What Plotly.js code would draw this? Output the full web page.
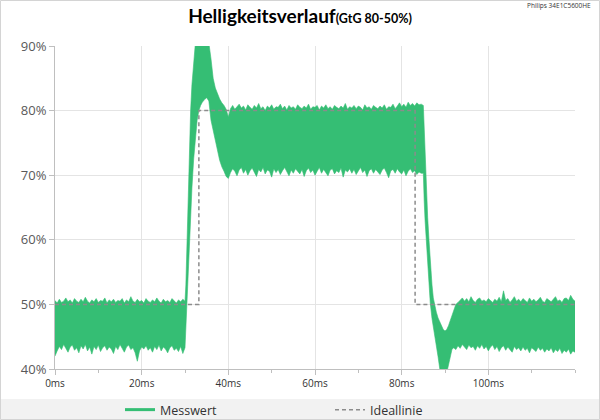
<!DOCTYPE html>
<html>
<head>
<meta charset="utf-8">
<script src="https://cdn.plot.ly/plotly-3.0.1.min.js"></script>
<style>html,body{margin:0;padding:0;background:#fff;}#chart{width:600px;height:420px;}</style>
</head>
<body>
<div id="chart"></div>
<script>
// ---- Data ----
// Segment A: steady 50% level, sampled every 0.5 ms from 0 ms
const segA_t0 = 0, segA_dt = 0.5;
const segA_upper = [50.6,50.2,50.8,50.3,50.5,51.0,50.4,50.7,50.2,50.9,50.5,50.3,50.8,50.4,51.1,50.5,50.2,50.7,50.4,50.9,50.3,50.6,50.5,51.0,50.2,50.7,50.4,50.8,50.3,50.6,50.5,50.9,50.2,50.7,50.4,51.2,50.5,50.3,50.8,50.4,50.6,50.2,50.9,50.5,50.3,50.7,50.4,51.0,50.5,50.2,50.8,50.4,50.6,50.3,50.9,50.5,50.2,50.7,50.4,50.8,50.5];
const segA_lower = [42.0,42.8,43.5,43.0,43.8,43.2,42.6,43.4,43.7,42.9,43.3,42.5,43.6,43.1,43.8,42.8,43.4,42.3,43.5,43.0,43.7,42.7,43.3,43.6,42.9,43.4,43.1,42.4,43.5,43.0,43.8,43.2,42.6,43.4,43.7,43.0,43.3,42.5,41.2,42.8,43.4,43.1,43.6,42.9,43.3,42.6,43.5,43.0,43.7,42.8,43.4,43.1,42.5,43.3,43.6,42.9,43.2,42.7,43.5,42.4,43.3];

// Rising transition with overshoot
const rise_t = [30.2,30.4,30.6,30.8,31.0,31.3,31.6,32.0,32.4,32.8,33.2,33.6,34.0,34.5,35.0,35.5,36.0,36.5,37.0,37.5,38.0,38.5,39.0,39.5];
const rise_upper = [53,58,64,70,75,80,84,87.5,90.5,92,93,93.5,93.5,93,92,90.5,88,85,83.5,82.5,81.8,81.2,80.8,80.2];
const rise_lower = [45,48,51,54,58,63,68,72.5,76,78.5,80,80.8,81.3,81.7,82,81.5,78.5,76.5,75,73.8,72.3,71.3,70.6,69.8];

// Segment B: steady 80% level, every 0.5 ms from 40 ms
const segB_t0 = 40, segB_dt = 0.5;
const segB_upper = [79.0,80.3,80.8,80.2,80.6,81.0,80.4,80.7,80.1,80.9,80.5,80.2,80.8,80.4,81.1,80.3,80.6,80.0,80.7,80.4,80.9,80.2,80.6,80.5,81.0,80.3,80.7,80.1,80.8,80.4,80.6,80.2,80.9,80.5,80.3,80.7,80.4,81.0,80.2,80.6,80.5,80.8,80.1,80.7,80.4,80.9,80.3,80.6,80.2,80.8,80.5,80.3,80.7,80.4,81.1,80.2,80.6,80.4,80.8,80.3,80.7,80.5,80.1,80.9,80.4,80.6,80.2,80.8,80.5,80.3,80.7,80.4,80.9,80.2,80.6,80.5,81.0,80.3,80.7,81.2,80.6,81.0,80.5,81.3,80.8,81.1,80.7,81.2,80.9,81.0];
const segB_lower = [69.5,70.4,71.0,70.6,69.9,70.8,71.2,70.3,70.9,70.0,70.7,71.1,70.4,69.8,70.9,70.5,71.2,70.2,70.8,70.6,69.7,71.0,70.4,70.9,70.1,70.7,71.2,70.5,69.9,70.8,70.3,71.0,70.6,70.2,70.9,69.8,70.7,71.1,70.4,70.8,70.0,70.6,71.2,70.3,70.9,70.5,69.9,70.8,71.0,70.2,70.7,70.4,71.1,69.7,70.8,70.5,71.0,70.3,70.9,70.1,70.6,71.2,70.4,70.8,69.8,70.7,71.0,70.3,70.9,70.5,70.1,70.8,71.1,70.4,69.6,70.7,70.9,70.3,71.0,70.5,70.2,70.8,69.9,70.6,71.0,70.4,70.7,70.1,70.5,70.3];

// Falling transition with undershoot
const fall_t = [85.0,85.2,85.4,85.6,85.8,86.0,86.3,86.6,87.0,87.3,87.6,88.0,88.4,88.8,89.2,89.6,90.0,90.4,90.8,91.2,91.6,92.0,92.5];
const fall_upper = [80.8,77,73,69.5,66,63.5,60,56.5,53,51,49.8,48.8,47.9,47.2,46.6,46.1,45.9,46.1,46.7,47.5,48.4,49.2,50.0];
const fall_lower = [70.3,66,63,61,59,56.5,53,50.2,47.8,46.5,45.2,43.5,41.9,40.0,39.0,38.5,38.8,39.4,40.3,41.8,43.0,43.3,43.0];

// Segment C: steady 50% level, every 0.5 ms from 93 ms
const segC_t0 = 93, segC_dt = 0.5;
const segC_upper = [50.3,50.7,51.0,50.5,50.9,50.4,51.2,50.6,50.3,50.8,51.0,50.5,50.7,50.4,50.9,50.6,50.3,50.8,50.5,51.1,50.4,52.1,50.6,50.9,50.3,50.7,51.2,50.5,50.8,50.4,50.9,50.6,50.3,51.0,50.5,50.8,50.4,50.7,51.1,50.5,50.3,50.9,50.6,50.4,50.8,51.2,50.5,50.7,50.3,50.9,51.0,50.6,51.4,50.8,50.5];
const segC_lower = [43.6,43.2,43.8,43.4,43.0,43.7,43.3,43.5,42.9,43.6,43.2,43.8,43.1,43.5,42.8,43.4,43.7,43.0,43.5,42.7,43.3,43.6,42.9,43.4,43.1,42.6,43.5,43.0,43.3,42.8,43.4,42.9,43.2,42.5,43.3,43.0,42.7,43.4,42.9,43.2,42.6,43.1,42.8,43.3,42.5,43.0,42.7,43.2,42.4,42.9,42.6,43.1,42.3,42.8,42.6];

// Ideal line
const ideal_t = [0, 33.2, 33.2, 83.1, 83.1, 120];
const ideal_v = [50, 50, 80, 80, 50, 50];

// Axis ticks
const xTickVals = [0, 20, 40, 60, 80, 100];
const xTickText = ["0ms", "20ms", "40ms", "60ms", "80ms", "100ms"];
const yTickVals = [40, 50, 60, 70, 80, 90];
const yTickText = ["40%", "50%", "60%", "70%", "80%", "90%"];

// ---- Build envelope ----
const T = [], U = [], L = [];
function addUniform(t0, dt, up, lo) {
  const n = Math.min(up.length, lo.length);
  for (let i = 0; i < n; i++) { T.push(t0 + i * dt); U.push(up[i]); L.push(lo[i]); }
}
function addExplicit(ts, up, lo) {
  const n = Math.min(ts.length, up.length, lo.length);
  for (let i = 0; i < n; i++) { T.push(ts[i]); U.push(up[i]); L.push(lo[i]); }
}
addUniform(segA_t0, segA_dt, segA_upper, segA_lower);
addExplicit(rise_t, rise_upper, rise_lower);
addUniform(segB_t0, segB_dt, segB_upper, segB_lower);
addExplicit(fall_t, fall_upper, fall_lower);
addUniform(segC_t0, segC_dt, segC_upper, segC_lower);

const polyX = T.concat(T.slice().reverse());
const polyY = U.concat(L.slice().reverse());

const GREEN = '#35BE74';

const traces = [
  { x: polyX, y: polyY, type: 'scatter', mode: 'lines', fill: 'toself',
    fillcolor: GREEN, line: { color: GREEN, width: 0.6 }, showlegend: false, hoverinfo: 'skip' },
  { x: ideal_t, y: ideal_v, type: 'scatter', mode: 'lines', name: 'Ideallinie',
    line: { color: '#8c8c8c', width: 1.5, dash: '4px,3px' }, legend: 'legend2' },
  { x: [null], y: [null], type: 'scatter', mode: 'lines', name: 'Messwert',
    line: { color: GREEN, width: 3 }, legend: 'legend' }
];

const W = 520, H = 323; // plot area size in px
const layout = {
  width: 600, height: 420,
  margin: { l: 55, r: 25, t: 46, b: 51, autoexpand: false },
  paper_bgcolor: '#ffffff', plot_bgcolor: '#ffffff',
  font: { family: 'Open Sans, sans-serif', color: '#333' },
  title: {
    text: '<b>Helligkeitsverlauf</b><b><span style="font-size:12.5px">(GtG 80-50%)</span></b>',
    font: { family: 'Lato, sans-serif', size: 19, color: '#000' },
    x: 0.5, xref: 'container', xanchor: 'center',
    y: 0.962, yref: 'container', yanchor: 'middle'
  },
  xaxis: {
    range: [0, 120], tickvals: xTickVals, ticktext: xTickText,
    showgrid: true, gridcolor: '#e4e4e4', gridwidth: 1,
    showline: true, linecolor: '#bfbfbf', linewidth: 1,
    ticks: 'outside', ticklen: 5, tickcolor: '#bfbfbf',
    minor: { dtick: 10, tick0: 0, ticks: 'outside', ticklen: 3, tickcolor: '#bfbfbf', showgrid: false },
    tickfont: { family: 'Open Sans, sans-serif', size: 10, color: '#333' },
    zeroline: false, fixedrange: true, automargin: false
  },
  yaxis: {
    range: [40, 90], tickvals: yTickVals, ticktext: yTickText,
    showgrid: true, gridcolor: '#e4e4e4', gridwidth: 1,
    showline: true, linecolor: '#bfbfbf', linewidth: 1,
    ticks: 'outside', ticklen: 5, tickcolor: '#bfbfbf',
    tickfont: { family: 'Open Sans, sans-serif', size: 13, color: '#595959' },
    zeroline: false, fixedrange: true, automargin: false
  },
  legend: {
    orientation: 'h', x: 120 / 600, xanchor: 'left', y: 1 - 410 / 420, yanchor: 'middle',
    xref: 'container', yref: 'container', bgcolor: 'rgba(0,0,0,0)', itemwidth: 30,
    font: { family: 'Open Sans, sans-serif', size: 12.5, color: '#333' }
  },
  legend2: {
    orientation: 'h', x: 330 / 600, xanchor: 'left', y: 1 - 410 / 420, yanchor: 'middle',
    xref: 'container', yref: 'container', bgcolor: 'rgba(0,0,0,0)', itemwidth: 30,
    font: { family: 'Open Sans, sans-serif', size: 12.5, color: '#333' }
  },
  shapes: [
    { type: 'rect', xref: 'paper', yref: 'paper', layer: 'below',
      x0: -55 / W, x1: 1 + 25 / W, y0: (369 - 421) / H, y1: (369 - 399) / H,
      fillcolor: '#f2f2f2', line: { width: 0 } },
    { type: 'rect', xref: 'paper', yref: 'paper', layer: 'above',
      x0: (0.5 - 55) / W, x1: (599.5 - 55) / W, y0: (369 - 419.5) / H, y1: (369 - 0.5) / H,
      fillcolor: 'rgba(0,0,0,0)', line: { color: '#d4d4d4', width: 1 } }
  ],
  annotations: [
    { text: 'Philips 34E1C5600HE', xref: 'paper', yref: 'paper',
      x: (593 - 55) / W, xanchor: 'right', y: (369 - 5) / H, yanchor: 'middle',
      showarrow: false, font: { family: 'Open Sans, sans-serif', size: 6.5, color: '#333' } }
  ]
};

Plotly.newPlot('chart', traces, layout, { staticPlot: true, displayModeBar: false });
</script>
</body>
</html>
